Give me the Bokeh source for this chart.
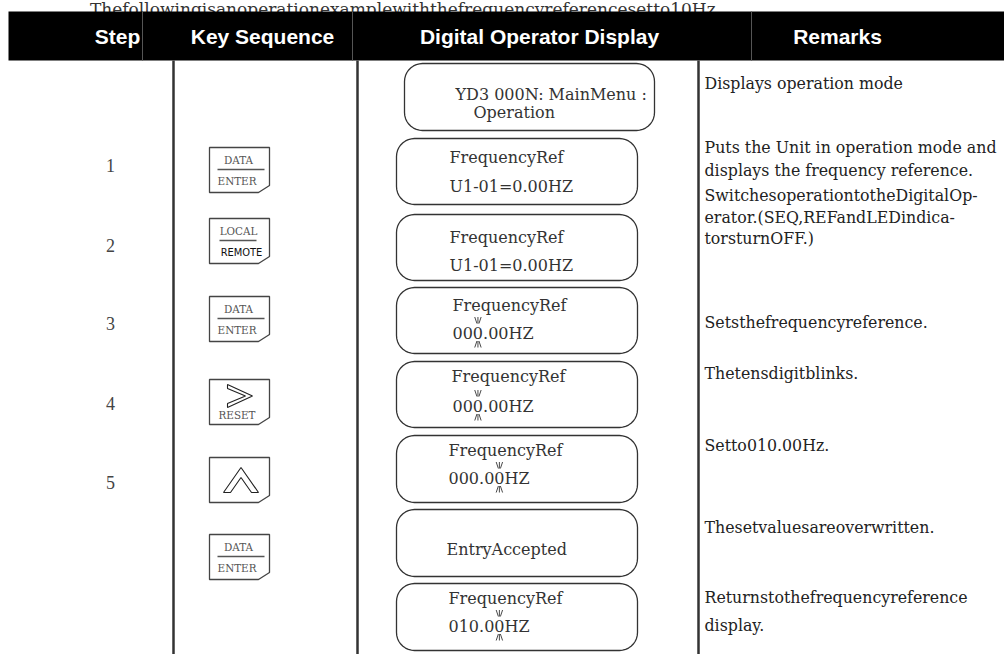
from bokeh.plotting import figure
from bokeh.models import Range1d
from bokeh.embed import file_html
from bokeh.resources import INLINE
from bokeh.core.properties import value
import numpy as np

# ---------------- data (texts) ----------------
title_text = "Thefollowingisanoperationexamplewiththefrequencyreferencesetto10Hz."
headers = ["Step", "Key Sequence", "Digital Operator Display", "Remarks"]
steps = ["", "1", "2", "3", "4", "5", "", ""]
keys = ["", "DATA/ENTER", "LOCAL/REMOTE", "DATA/ENTER", "RIGHT/RESET", "UP", "DATA/ENTER", ""]
display_line1 = ["YD3 000N: MainMenu :", "FrequencyRef", "FrequencyRef", "FrequencyRef",
                 "FrequencyRef", "FrequencyRef", "EntryAccepted", "FrequencyRef"]
display_line2 = ["Operation", "U1-01=0.00HZ", "U1-01=0.00HZ", "000.00HZ",
                 "000.00HZ", "000.00HZ", "", "010.00HZ"]
blink_index = [-1, -1, -1, 2, 2, 5, -1, 5]
remarks = [
    ["Displays operation mode"],
    ["Puts the Unit in operation mode and", "displays the frequency reference."],
    ["SwitchesoperationtotheDigitalOp-", "erator.(SEQ,REFandLEDindica-", "torsturnOFF.)"],
    ["Setsthefrequencyreference."],
    ["Thetensdigitblinks."],
    ["Setto010.00Hz."],
    ["Thesetvaluesareoverwritten."],
    ["Returnstothefrequencyreference", "display."],
]

# ---------------- layout (page pixel positions) ----------------
W, H = 1004, 654
header_top, header_bottom = 11, 60
header_cx = [117, 262, 539, 837]
header_seps = [142, 352, 751]
body_lines_x = [173, 357, 698]
step_x = 110
step_y = [None, 165, 245, 323, 403, 482, None, None]
key_left, key_right, key_h = 209, 269, 45
key_top = [None, 147, 218, 296, 379, 457, 534, None]
box_left = [404, 396, 396, 396, 396, 396, 396, 396]
box_right = [654, 637, 637, 637, 637, 637, 637, 637]
box_top = [63, 138, 214, 287, 361, 435, 509, 583]
box_bottom = [130, 204, 280, 353, 427, 502, 576, 650]
line1_x = [455, 449, 449, 452, 451, 448, 446, 448]
line1_y = [94, 157, 237, 305, 376, 450, 549, 598]
line2_x = [473, 449, 449, 452, 452, 448, None, 448]
line2_y = [112, 186, 265, 333, 406, 478, None, 626]
remark_x = 704
remark_y = [[83], [147, 170], [195, 217, 238], [322], [373], [445], [527], [597, 625]]

SERIF = value("DejaVu Serif")

p = figure(width=W, height=H, x_range=Range1d(0, W), y_range=Range1d(H, 0),
           output_backend="svg", toolbar_location=None,
           x_axis_location=None, y_axis_location=None, min_border=0,
           outline_line_color=None, background_fill_color="white",
           border_fill_color="white")
p.grid.grid_line_color = None

# title
p.text(x=[405], y=[8], text=[title_text], text_font=SERIF, text_font_size="17px",
       text_color="#333", text_align="center", text_baseline="alphabetic")

# header
p.quad(left=[8], right=[W], top=[header_top], bottom=[header_bottom],
       fill_color="black", line_color=None)
p.segment(x0=header_seps, y0=[header_top] * 3, x1=header_seps, y1=[header_bottom] * 3,
          line_color="#555", line_width=1)
p.text(x=header_cx, y=[36] * 4, text=headers, text_font=value("Liberation Sans"),
       text_font_style="bold", text_font_size="21px", text_color="white",
       text_align="center", text_baseline="middle")

# body column lines
p.segment(x0=body_lines_x, y0=[header_bottom] * 3, x1=body_lines_x, y1=[H] * 3,
          line_color="#333", line_width=2.5)

# steps
sx, sy, st = [], [], []
for s, y in zip(steps, step_y):
    if s:
        sx.append(step_x); sy.append(y); st.append(s)
p.text(x=sx, y=sy, text=st, text_font=value("Liberation Serif"), text_font_size="18px",
       text_color="#444", text_align="center", text_baseline="middle")

# key buttons
kxs, kys = [], []
for k, t in zip(keys, key_top):
    if not k:
        continue
    b = t + key_h
    kxs.append([key_left, key_right, key_right, key_right - 11, key_left])
    kys.append([t, t, b - 7, b, b])
p.patches(xs=kxs, ys=kys, fill_color="white", line_color="#444", line_width=1.3)

cond_serif = value("DejaVu Serif Condensed")
kt_x, kt_y, kt_t = [], [], []
sep_x0, sep_x1, sep_y = [], [], []
rem_x, rem_y = [], []
chev_xs, chev_ys = [], []
for k, t in zip(keys, key_top):
    if not k:
        continue
    if k == "DATA/ENTER":
        kt_x += [238, 236.5]; kt_y += [t + 12, t + 33]; kt_t += ["DATA", "ENTER"]
        sep_x0.append(217); sep_x1.append(264); sep_y.append(t + 22)
    elif k == "LOCAL/REMOTE":
        kt_x.append(238); kt_y.append(t + 12); kt_t.append("LOCAL")
        sep_x0.append(219); sep_x1.append(256); sep_y.append(t + 22)
        rem_x.append(241); rem_y.append(t + 34)
    elif k == "RIGHT/RESET":
        kt_x.append(236.5); kt_y.append(t + 35); kt_t.append("RESET")
        chev_xs.append([227, 252, 227, 227, 245, 227])
        chev_ys.append([t + 5, t + 16.5, t + 28, t + 24, t + 16.5, t + 9])
    elif k == "UP":
        chev_xs.append([223, 240.5, 258, 251, 240.5, 230])
        chev_ys.append([t + 35, t + 10, t + 35, t + 35, t + 20, t + 35])

p.text(x=kt_x, y=kt_y, text=kt_t, text_font=cond_serif, text_font_size="11.5px",
       text_color="#555", text_align="center", text_baseline="middle")
p.segment(x0=sep_x0, y0=sep_y, x1=sep_x1, y1=sep_y, line_color="#555", line_width=1.5)
p.text(x=rem_x, y=rem_y, text=["REMOTE"] * len(rem_x), text_font=value("DejaVu Sans Condensed"),
       text_font_size="11px", text_color="#111", text_align="center", text_baseline="middle")
p.patches(xs=chev_xs, ys=chev_ys, fill_color="white", line_color="#222", line_width=1.1)

# display boxes (rounded rectangles)
def rounded(l, t, r, b, rad, n=10):
    xs, ys = [], []
    corners = [((l + rad, t + rad), 180, 270), ((r - rad, t + rad), 270, 360),
               ((r - rad, b - rad), 0, 90), ((l + rad, b - rad), 90, 180)]
    for (cx, cy), a0, a1 in corners:
        ang = np.radians(np.linspace(a0, a1, n))
        xs += list(cx + rad * np.cos(ang))
        ys += list(cy + rad * np.sin(ang))
    return xs, ys

bxs, bys = [], []
for l, t, r, b in zip(box_left, box_top, box_right, box_bottom):
    x_, y_ = rounded(l, t, r, b, 18)
    bxs.append(x_); bys.append(y_)
p.patches(xs=bxs, ys=bys, fill_color="white", line_color="#333", line_width=1.3)

p.text(x=line1_x, y=line1_y, text=display_line1, text_font=SERIF, text_font_size="16px",
       text_color="#333", text_align="left", text_baseline="middle")
l2x, l2y, l2t = [], [], []
for x, y, s in zip(line2_x, line2_y, display_line2):
    if s:
        l2x.append(x); l2y.append(y); l2t.append(s)
p.text(x=l2x, y=l2y, text=l2t, text_font=SERIF, text_font_size="16px",
       text_color="#333", text_align="left", text_baseline="middle")

# blinking-digit marks
adv = {".": 0.318}
fs_box = 16.0
mx0, my0, mx1, my1 = [], [], [], []
for idx, x, y, s in zip(blink_index, line2_x, line2_y, display_line2):
    if idx < 0:
        continue
    cx = x + sum(adv.get(c, 0.636) for c in s[:idx]) * fs_box + adv.get(s[idx], 0.636) * fs_box / 2
    ya, yb = y - 13, y + 10.5
    for dx_top, dx_bot in [(-3.2, -1.0), (0, 0), (3.2, 1.0)]:
        mx0.append(cx + dx_top); my0.append(ya - 3.5); mx1.append(cx + dx_bot); my1.append(ya + 3)
        mx0.append(cx + dx_bot); my0.append(yb - 3); mx1.append(cx + dx_top); my1.append(yb + 3.5)
p.segment(x0=mx0, y0=my0, x1=mx1, y1=my1, line_color="#333", line_width=0.9)

# remarks
rx, ry, rt = [], [], []
for lines, ys in zip(remarks, remark_y):
    for s, y in zip(lines, ys):
        rx.append(remark_x); ry.append(y); rt.append(s)
p.text(x=rx, y=ry, text=rt, text_font=SERIF, text_font_size="15.8px",
       text_color="#222", text_align="left", text_baseline="middle")

open("out.html", "w").write(file_html(p, INLINE))
